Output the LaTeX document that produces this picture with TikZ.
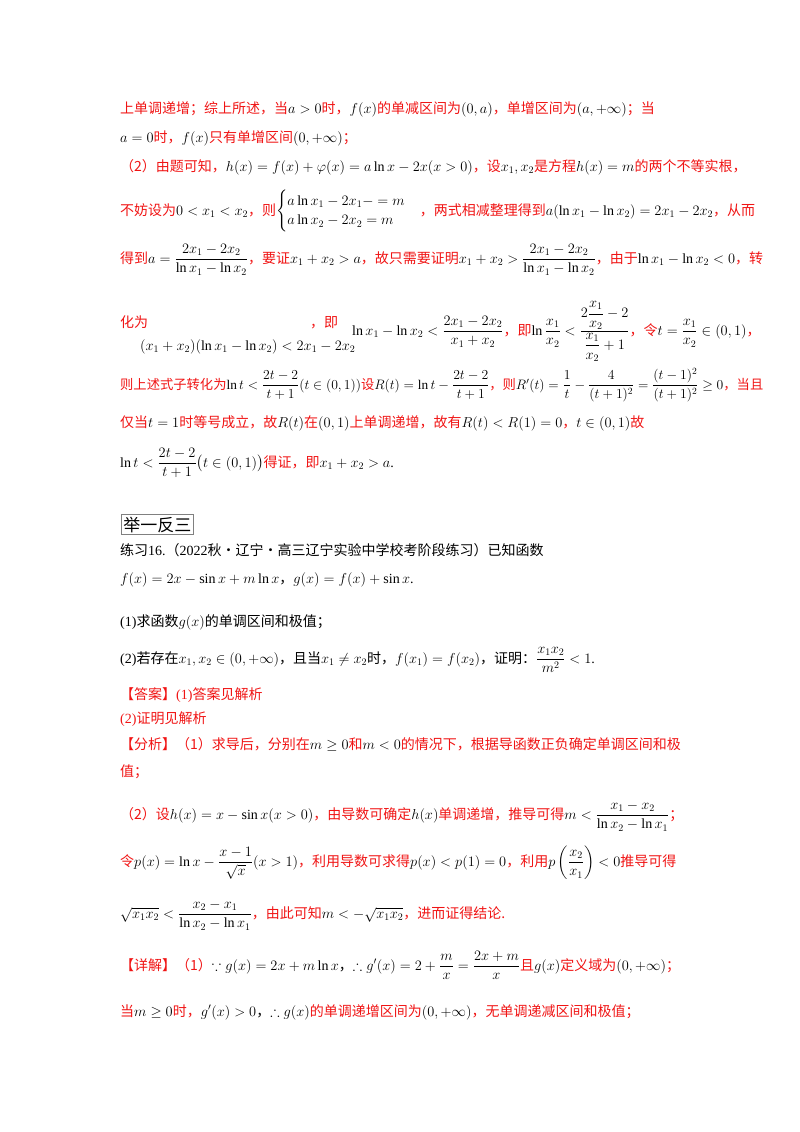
\documentclass[tikz,border=0pt]{standalone}
\usepackage{fontspec}
\usepackage{amsmath,amssymb}
\setmainfont{Liberation Serif}
\newfontfamily\cjk{Noto Sans CJK SC}
\definecolor{red}{RGB}{240,20,20}
\newcommand{\R}[1]{\textcolor{red}{\cjk #1}}
\newcommand{\K}[1]{{\cjk #1}}
\tikzset{ln/.style={anchor=base west,inner sep=0pt,font=\fontsize{14}{16}\selectfont}}
\begin{document}
\begin{tikzpicture}[x=1pt,y=-1pt]
\useasboundingbox (0,0) rectangle (800,1132);
\node[ln] (l1) at (120,113) {\R{上单调递增；综上所述，当}$a>0$\R{时，}$f(x)$\R{的单减区间为}$(0,a)$\R{，单增区间为}$(a,+\infty)$\R{；当}};
\node[ln] (l2) at (120,142) {$a=0$\R{时，}$f(x)$\R{只有单增区间}$(0,+\infty)$\R{；}};
\node[ln] (l3) at (120,171) {\R{（2）由题可知，}$h(x)=f(x)+\varphi(x)=a\ln x-2x(x>0)$\R{，设}$x_1,x_2$\R{是方程}$h(x)=m$\R{的两个不等实根，}};
\node[ln] (l4) at (120,215) {\R{不妨设为}$0<x_1<x_2$\R{，则}$\begin{cases}a\ln x_1-2x_1-=m\\ a\ln x_2-2x_2=m\end{cases}$\R{，两式相减整理得到}$a(\ln x_1-\ln x_2)=2x_1-2x_2$\R{，从而}};
\node[ln] (l5) at (120,263) {\R{得到}$a=\dfrac{2x_1-2x_2}{\ln x_1-\ln x_2}$\R{，要证}$x_1+x_2>a$\R{，故只需要证明}$x_1+x_2>\dfrac{2x_1-2x_2}{\ln x_1-\ln x_2}$\R{，由于}$\ln x_1-\ln x_2<0$\R{，转}};
\node[ln] (l6) at (120,327) {\R{化为}};
\node[ln] (l6b) at (140,350) {$(x_1+x_2)(\ln x_1-\ln x_2)<2x_1-2x_2$};
\node[ln] (l6c) at (310,327) {\R{，即}};
\node[ln] (l6d) at (352,335) {$\ln x_1-\ln x_2<\dfrac{2x_1-2x_2}{x_1+x_2}$\R{，即}$\ln\dfrac{x_1}{x_2}<\dfrac{2\dfrac{x_1}{x_2}-2}{\dfrac{x_1}{x_2}+1}$\R{，令}$t=\dfrac{x_1}{x_2}\in(0,1)$\R{，}};
\node[ln,scale=0.95] (l7) at (120,389) {\R{则上述式子转化为}$\ln t<\dfrac{2t-2}{t+1}(t\in(0,1))$\R{设}$R(t)=\ln t-\dfrac{2t-2}{t+1}$\R{，则}$R'(t)=\dfrac1t-\dfrac{4}{(t+1)^2}=\dfrac{(t-1)^2}{(t+1)^2}\geq0$\R{，当且}};
\node[ln] (l8) at (120,427) {\R{仅当}$t=1$\R{时等号成立，故}$R(t)$\R{在}$(0,1)$\R{上单调递增，故有}$R(t)<R(1)=0$\R{，}$t\in(0,1)$\R{故}};
\node[ln] (l9) at (120,467) {$\ln t<\dfrac{2t-2}{t+1}\big(t\in(0,1)\big)$\R{得证，即}$x_1+x_2>a$.};
\node[ln,draw=gray,thick,inner sep=2pt,font=\fontsize{17}{18}\selectfont] (box) at (121,531) {\K{举一反三}};
\node[ln] (p1) at (120,555) {\K{练习}16.\K{（}2022\K{秋·辽宁·高三辽宁实验中学校考阶段练习）已知函数}};
\node[ln] (p2) at (120,583) {$f(x)=2x-\sin x+m\ln x$\K{，}$g(x)=f(x)+\sin x$.};
\node[ln] (p3) at (120,626) {(1)\K{求函数}$g(x)$\K{的单调区间和极值；}};
\node[ln] (p4) at (120,663) {(2)\K{若存在}$x_1,x_2\in(0,+\infty)$\K{，且当}$x_1\neq x_2$\K{时，}$f(x_1)=f(x_2)$\K{，证明：}$\dfrac{x_1x_2}{m^2}<1$.};
\node[ln] (a1) at (120,699) {\R{【答案】}\textcolor{red}{(1)}\R{答案见解析}};
\node[ln] (a2) at (120,723) {\textcolor{red}{(2)}\R{证明见解析}};
\node[ln] (a3) at (120,749) {\R{【分析】（1）求导后，分别在}$m\geq0$\R{和}$m<0$\R{的情况下，根据导函数正负确定单调区间和极}};
\node[ln] (a4) at (120,776) {\R{值；}};
\node[ln] (a5) at (120,819) {\R{（2）设}$h(x)=x-\sin x(x>0)$\R{，由导数可确定}$h(x)$\R{单调递增，推导可得}$m<\dfrac{x_1-x_2}{\ln x_2-\ln x_1}$\R{；}};
\node[ln] (a6) at (120,866) {\R{令}$p(x)=\ln x-\dfrac{x-1}{\sqrt x}(x>1)$\R{，利用导数可求得}$p(x)<p(1)=0$\R{，利用}$p\left(\dfrac{x_2}{x_1}\right)<0$\R{推导可得}};
\node[ln] (a7) at (120,918) {$\sqrt{x_1x_2}<\dfrac{x_2-x_1}{\ln x_2-\ln x_1}$\R{，由此可知}$m<-\sqrt{x_1x_2}$\R{，进而证得结论.}};
\node[ln] (a8) at (120,970) {\R{【详解】（1）}$\because g(x)=2x+m\ln x$\K{，}$\therefore g'(x)=2+\dfrac mx=\dfrac{2x+m}{x}$\R{且}$g(x)$\R{定义域为}$(0,+\infty)$\R{；}};
\node[ln] (a9) at (120,1016) {\R{当}$m\geq0$\R{时，}$g'(x)>0$\K{，}$\therefore g(x)$\R{的单调递增区间为}$(0,+\infty)$\R{，无单调递减区间和极值；}};
\end{tikzpicture}
\end{document}
